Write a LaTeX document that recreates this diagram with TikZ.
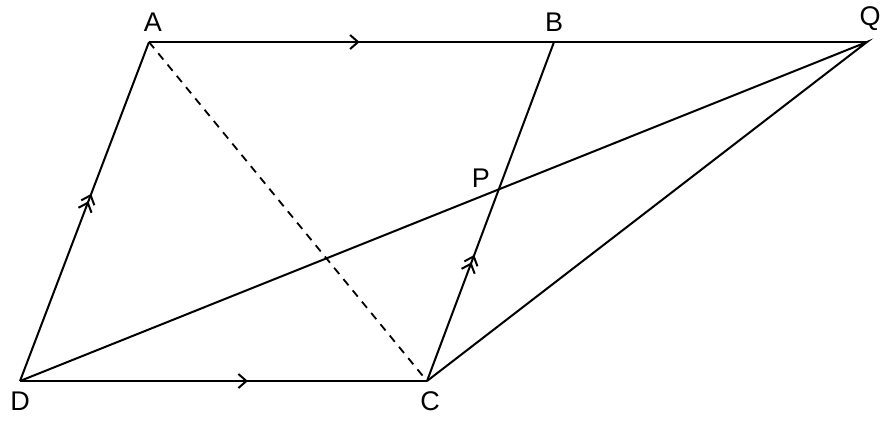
\documentclass[tikz,border=0pt]{standalone}
\usepackage{fontspec}
\setmainfont{Liberation Sans}
\usetikzlibrary{positioning,arrows.meta,decorations.markings}
\begin{document}
\begin{tikzpicture}[x=0.5pt, y=-0.5pt, line width=1pt,
  every node/.style={inner sep=0pt, font=\fontsize{13.5}{15}\selectfont},
  onetick/.style={postaction={decorate, decoration={markings,
      mark=at position #1 with {\arrow{Straight Barb[length=4pt, width=7pt]}}}}},
  twotick/.style={postaction={decorate, decoration={markings,
      mark=at position #1 with {\arrow{Straight Barb[length=4pt, width=7pt]}},
      mark=at position #1+0.022 with {\arrow{Straight Barb[length=4pt, width=7pt]}}}}}]
  \useasboundingbox (0,0) rectangle (893,420);
  % corners of the figure
  \coordinate (A) at (149,42);
  \coordinate (B) at (554,42);
  \coordinate (Q) at (867,42);
  \coordinate (D) at (20,381);
  \coordinate (C) at (427,381);
  \coordinate (P) at (498.8,189.4);
  % sides
  \draw[onetick=0.52] (A) -- (B);
  \draw (B) -- (Q);
  \draw[onetick=0.56] (D) -- (C);
  \draw[twotick=0.53] (D) -- (A);
  \draw[twotick=0.35] (C) -- (B);
  \draw (D) -- (Q) -- (C);
  \draw[line width=0.9pt, dash pattern=on 4pt off 3.3pt] (A) -- (C);
  % labels
  \node (labA) [above=5pt of A, xshift=2pt] {A};
  \node (labB) [above=5pt of B] {B};
  \node (labQ) [above=5pt of Q, xshift=1.5pt] {Q};
  \node (labD) [below=5pt of D] {D};
  \node (labC) [below=5pt of C, xshift=1.5pt] {C};
  \node (labP) [above left=0.5pt and 4pt of P] {P};
\end{tikzpicture}
\end{document}
